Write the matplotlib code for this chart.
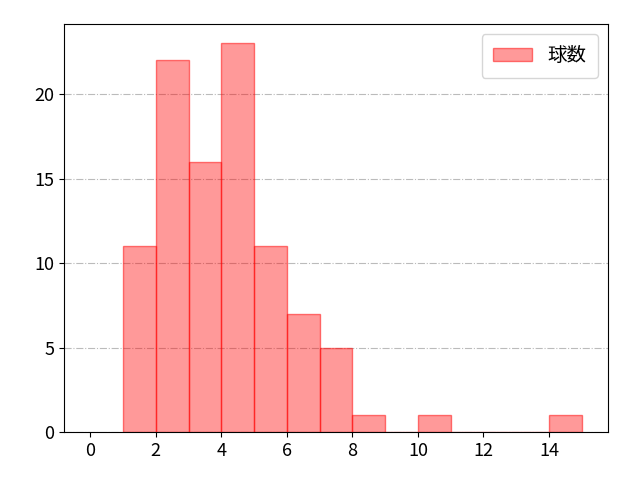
import matplotlib
matplotlib.use("Agg")
import matplotlib.pyplot as plt

plt.rcParams['font.family'] = ['Noto Sans CJK JP', 'DejaVu Sans']

bin_left = [1, 2, 3, 4, 5, 6, 7, 8, 9, 10, 11, 12, 13, 14]
counts = [11, 22, 16, 23, 11, 7, 5, 1, 0, 1, 0, 0, 0, 1]

fig, ax = plt.subplots(figsize=(6.4, 4.8), dpi=100)
ax.bar(bin_left, counts, width=1, align='edge', color=(1, 0, 0, 0.4), edgecolor=(1, 0, 0, 0.5),
       linewidth=1, label='球数', zorder=2)
ax.set_xlim(-0.8, 15.8)
ax.set_xticks(range(0, 16, 2))
ax.set_yticks([0, 5, 10, 15, 20])
ax.grid(axis='y', linestyle='-.', color='#bbbbbb', zorder=0)
ax.tick_params(labelsize=13)
ax.legend(fontsize=14, loc='upper right', borderpad=0.6)
fig.subplots_adjust(left=0.1, right=0.95, top=0.95, bottom=0.1)
fig.savefig('out.png')
